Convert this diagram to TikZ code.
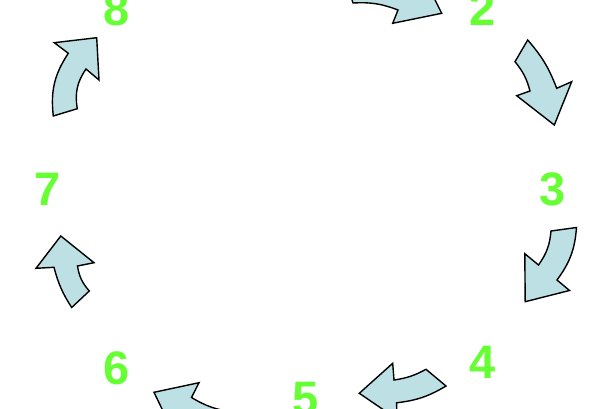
\documentclass[tikz,border=0pt]{standalone}
\usepackage{fontspec}
\setsansfont{Liberation Sans}
\usepackage{tikz}
\definecolor{numgreen}{HTML}{66FF33}
\definecolor{cycblue}{HTML}{BCE0E3}
\begin{document}
\begin{tikzpicture}[
      x=1pt, y=1pt,
      num/.style={text=numgreen, inner sep=0pt,
                  font=\sffamily\bfseries\fontsize{47}{50}\selectfont},
      cyc/.style={draw=black, fill=cycblue, line width=1.4pt}
    ]

    \useasboundingbox (0,0) rectangle (603,408);
    \clip (0,0) rectangle (603,408);

    \node[num] (n2) at (483,399) {2};
    \node[num] (n3) at (552.5,219) {3};
    \node[num] (n4) at (483,46) {4};
    \node[num] (n5) at (305.3,9) {5};
    \node[num] (n6) at (116.3,40) {6};
    \node[num] (n7) at (48,219) {7};
    \node[num] (n8) at (116.7,399) {8};

    \draw[cyc] (345,430) to[bend left=12] (416,420) -- (421,436) -- (441.7,394.7)
      -- (392.7,384.7) -- (398,398) to[bend right=12] (353,405) -- cycle;
    \draw[cyc] (527.7,368) to[bend left=10] (556.7,319.7) -- (571.7,326.3) -- (554.3,283)
      -- (516.7,312.3) -- (530,317) to[bend right=12] (515,346.3) -- cycle;
    \draw[cyc] (576.5,180.5) to[bend left=16] (557,128) -- (569.5,117.5) -- (525.2,106.3)
      -- (524.8,154.3) -- (538.5,143) to[bend right=15] (551,177) -- cycle;
    \draw[cyc] (446,22) to[bend left=12] (396.6,5.2) -- (397,-11) -- (359.3,14.7)
      -- (392.7,44.7) -- (394,28) to[bend right=10] (426,38.7) -- cycle;
    \draw[cyc] (236,-24) to[bend left=12] (181.6,-11.1) -- (173.8,-25.5) -- (154,15.7)
      -- (199,25.3) -- (191.5,10.5) to[bend right=12] (234,-4) -- cycle;
    \draw[cyc] (71.7,100.5) to[bend left=9] (54,140.7) -- (36,139.7) -- (60.8,172)
      -- (94,145.3) -- (77.5,142) to[bend right=16] (89.3,117) -- cycle;
    \draw[cyc] (53.3,292) to[bend left=20] (68.3,354.7) -- (54.3,365.3) -- (96.7,370.3)
      -- (99,328) -- (86,339) to[bend right=22] (77.3,299.3) -- cycle;

  \end{tikzpicture}
\end{document}
